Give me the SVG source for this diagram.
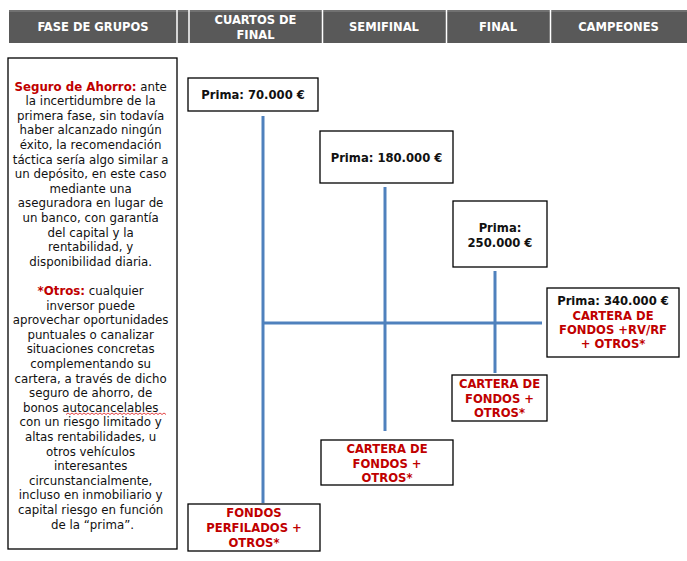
<svg xmlns="http://www.w3.org/2000/svg" width="687" height="561" viewBox="0 0 687 561">
<style>
.hdr{font-family:"DejaVu Sans Condensed","DejaVu Sans",sans-serif;font-weight:bold;font-size:12.8px;fill:#ffffff;text-anchor:middle}
.box{fill:#ffffff;stroke:#000000;stroke-width:1.3}
.bt{font-family:"DejaVu Sans",Verdana,sans-serif;font-weight:bold;font-size:11.6px;text-anchor:middle;fill:#111111}
.red{fill:#c00000}
.body{font-family:"DejaVu Sans",Verdana,sans-serif;font-size:11.8px;text-anchor:middle;fill:#111111}
.conn{stroke:#4f81bd;stroke-width:3;fill:none}
</style>
<rect width="687" height="561" fill="#ffffff"/>
<g id="header">
<rect x="9" y="10" width="678" height="33" fill="#595959"/>
<line x1="9" y1="11" x2="687" y2="11" stroke="#8a8a8a" stroke-width="1"/>
<g stroke="#ffffff" stroke-width="1.5">
<line x1="177" y1="10" x2="177" y2="43"/>
<line x1="189" y1="10" x2="189" y2="43"/>
<line x1="322.5" y1="10" x2="322.5" y2="43"/>
<line x1="446.5" y1="10" x2="446.5" y2="43"/>
<line x1="550.5" y1="10" x2="550.5" y2="43"/>
</g>
<text class="hdr" x="93" y="31">FASE DE GRUPOS</text>
<text class="hdr" x="255.5" y="24">CUARTOS DE</text>
<text class="hdr" x="255.5" y="39">FINAL</text>
<text class="hdr" x="384" y="31">SEMIFINAL</text>
<text class="hdr" x="498" y="31">FINAL</text>
<text class="hdr" x="618.5" y="31">CAMPEONES</text>
</g>
<g id="note">
<rect class="box" x="8" y="58" width="169" height="491"/>
<text class="body" x="92.5" y="90.5">
<tspan x="92.5"><tspan class="red" font-weight="bold">Seguro de Ahorro:</tspan> ante</tspan>
<tspan x="92.5" dy="14.6">la incertidumbre de la</tspan>
<tspan x="92.5" dy="14.6">primera fase, sin todavía</tspan>
<tspan x="92.5" dy="14.6">haber alcanzado ningún</tspan>
<tspan x="92.5" dy="14.6">éxito, la recomendación</tspan>
<tspan x="92.5" dy="14.6">táctica sería algo similar a</tspan>
<tspan x="92.5" dy="14.6">un depósito, en este caso</tspan>
<tspan x="92.5" dy="14.6">mediante una</tspan>
<tspan x="92.5" dy="14.6">aseguradora en lugar de</tspan>
<tspan x="92.5" dy="14.6">un banco, con garantía</tspan>
<tspan x="92.5" dy="14.6">del capital y la</tspan>
<tspan x="92.5" dy="14.6">rentabilidad, y</tspan>
<tspan x="92.5" dy="14.6">disponibilidad diaria.</tspan>
<tspan x="92.5" dy="29.2"><tspan class="red" font-weight="bold">*Otros:</tspan> cualquier</tspan>
<tspan x="92.5" dy="14.6">inversor puede</tspan>
<tspan x="92.5" dy="14.6">aprovechar oportunidades</tspan>
<tspan x="92.5" dy="14.6">puntuales o canalizar</tspan>
<tspan x="92.5" dy="14.6">situaciones concretas</tspan>
<tspan x="92.5" dy="14.6">complementando su</tspan>
<tspan x="92.5" dy="14.6">cartera, a través de dicho</tspan>
<tspan x="92.5" dy="14.6">seguro de ahorro, de</tspan>
<tspan x="92.5" dy="14.6">bonos autocancelables</tspan>
<tspan x="92.5" dy="14.6">con un riesgo limitado y</tspan>
<tspan x="92.5" dy="14.6">altas rentabilidades, u</tspan>
<tspan x="92.5" dy="14.6">otros vehículos</tspan>
<tspan x="92.5" dy="14.6">interesantes</tspan>
<tspan x="92.5" dy="14.6">circunstancialmente,</tspan>
<tspan x="92.5" dy="14.6">incluso en inmobiliario y</tspan>
<tspan x="92.5" dy="14.6">capital riesgo en función</tspan>
<tspan x="92.5" dy="14.6">de la “prima”.</tspan>
</text>
<path d="M66 414.5 l2 -1.5 l2 1.5 l2 -1.5 l2 1.5 l2 -1.5 l2 1.5 l2 -1.5 l2 1.5 l2 -1.5 l2 1.5 l2 -1.5 l2 1.5 l2 -1.5 l2 1.5 l2 -1.5 l2 1.5 l2 -1.5 l2 1.5 l2 -1.5 l2 1.5 l2 -1.5 l2 1.5 l2 -1.5 l2 1.5 l2 -1.5 l2 1.5 l2 -1.5 l2 1.5 l2 -1.5 l2 1.5 l2 -1.5 l2 1.5 l2 -1.5 l2 1.5 l2 -1.5 l2 1.5 l2 -1.5 l2 1.5 l2 -1.5 l2 1.5 l2 -1.5 l2 1.5 l2 -1.5 l2 1.5 l2 -1.5 l2 1.5 l2 -1.5 l2 1.5 l2 -1.5 l2 1.5" stroke="#e03030" stroke-width="0.9" fill="none"/>
</g>
<g id="connectors">
<path class="conn" d="M263 116 V503"/>
<path class="conn" d="M385 187 V431"/>
<path class="conn" d="M495 271 V373"/>
<path class="conn" d="M263 323 H542"/>
</g>
<g id="prima70">
<rect class="box" x="188" y="78" width="130" height="33"/>
<text class="bt" x="253" y="99">Prima: 70.000 €</text>
</g>
<g id="prima180">
<rect class="box" x="320" y="131" width="133" height="52"/>
<text class="bt" x="386.5" y="162">Prima: 180.000 €</text>
</g>
<g id="prima250">
<rect class="box" x="453" y="201" width="94" height="66"/>
<text class="bt" x="500" y="232">Prima:</text>
<text class="bt" x="500" y="247">250.000 €</text>
</g>
<g id="prima340">
<rect class="box" x="547" y="288" width="132" height="69"/>
<text class="bt" x="613" y="305">Prima: 340.000 €</text>
<text class="bt red" x="613" y="320">CARTERA DE</text>
<text class="bt red" x="613" y="334">FONDOS +RV/RF</text>
<text class="bt red" x="613" y="348">+ OTROS*</text>
</g>
<g id="cartera-final">
<rect class="box" x="452" y="375" width="95" height="46"/>
<text class="bt red" x="499.5" y="388">CARTERA DE</text>
<text class="bt red" x="499.5" y="403">FONDOS +</text>
<text class="bt red" x="499.5" y="417">OTROS*</text>
</g>
<g id="cartera-semi">
<rect class="box" x="321" y="440" width="132" height="45"/>
<text class="bt red" x="387" y="453">CARTERA DE</text>
<text class="bt red" x="387" y="468">FONDOS +</text>
<text class="bt red" x="387" y="482">OTROS*</text>
</g>
<g id="fondos-perfilados">
<rect class="box" x="188" y="504" width="132" height="47"/>
<text class="bt red" x="254" y="517">FONDOS</text>
<text class="bt red" x="254" y="532">PERFILADOS +</text>
<text class="bt red" x="254" y="547">OTROS*</text>
</g>
</svg>
